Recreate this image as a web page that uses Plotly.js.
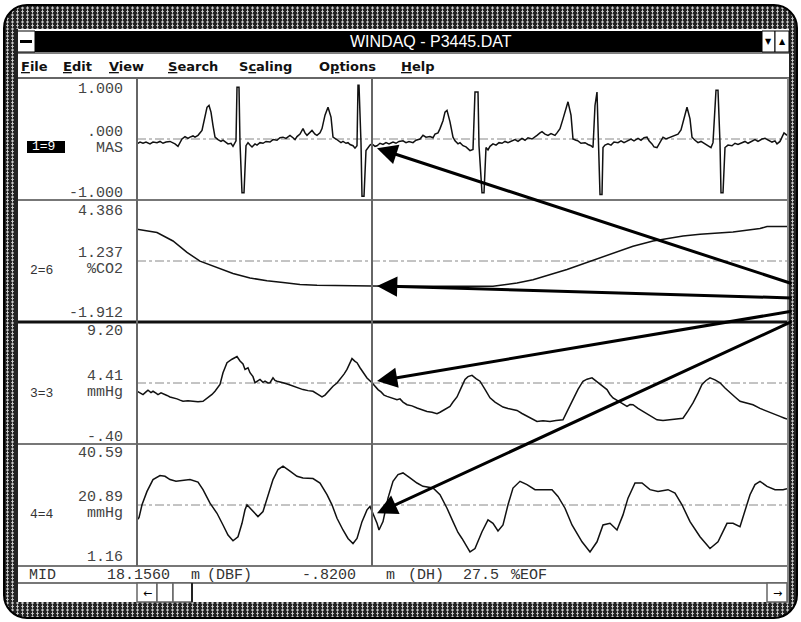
<!DOCTYPE html>
<html><head><meta charset="utf-8">
<script src="https://cdn.plot.ly/plotly-3.0.1.min.js"></script>
<style>
html,body{margin:0;padding:0;background:#fff;}
#wrap{position:relative;width:801px;height:622px;overflow:hidden;background:#fff;}
#frame{position:absolute;left:3px;top:4px;width:795px;height:615px;border-radius:24px;box-sizing:border-box;border:2px solid #000;
 background-color:#222;
 background-image:radial-gradient(1.2px 1.7px at 2.5px 2px,#c8c8c8 80%,rgba(0,0,0,0) 100%),radial-gradient(1.2px 1.7px at 2.5px 5.5px,#c8c8c8 80%,rgba(0,0,0,0) 100%);
 background-size:5px 7px;}
#chart{position:absolute;left:0;top:0;width:801px;height:622px;}
</style></head>
<body><div id="wrap"><div id="frame"></div><div id="chart"></div></div>
<script>
// ---- data (sample index across the screen, values in channel units) ----
const ecgT=[0,3,6,9,13,16,20,23,26,29,
 33,36,38,41,45,48,51,53,56,58,
 61,65,67,70,72,74,76,78,81,84,
 86,89,91,94,96,99,100,102,103,105,
 107,109,111,113,115,118,120,123,126,129,
 133,136,140,143,146,149,153,156,158,160,
 163,166,168,170,173,175,178,180,183,185,
 188,191,194,196,199,201,204,206,209,211,
 213,216,218,220,221,222,224,225,227,229,
 231,233,235,238,240,243,246,249,252,256,
 259,262,266,269,272,276,279,283,286,289,
 293,296,298,301,303,306,308,310,313,316,
 318,321,323,326,329,333,336,338,341,342,
 345,347,349,351,353,356,359,362,365,368,
 371,375,378,381,385,388,391,395,398,400,
 403,405,408,411,414,418,420,423,426,430,
 431,434,436,439,441,444,448,451,454,456,
 458,460,461,463,465,466,468,471,474,477,
 481,484,487,491,494,497,501,504,507,510,
 512,515,517,520,523,526,529,532,535,538,
 541,544,546,550,553,555,558,561,564,568,
 571,574,576,579,581,583,584,586,588,591,
 595,598,601,605,608,611,615,618,621,625,
 628,631,635,638,640,643,645,647,650];
const ecgV=[-0.08,-0.05,-0.07,-0.05,-0.08,-0.05,-0.06,-0.04,-0.07,-0.05,
 -0.04,-0.06,-0.08,-0.12,0.0,0.04,0.01,0.03,0.05,0.03,
 0.06,0.14,0.28,0.52,0.55,0.44,0.22,0.03,-0.01,-0.04,
 -0.02,-0.06,-0.08,-0.07,-0.12,-0.03,0.85,0.85,-0.06,-0.88,
 -0.88,-0.11,-0.06,-0.1,-0.13,-0.08,-0.1,-0.06,-0.07,-0.04,
 -0.05,-0.01,-0.02,0.02,0.03,0.01,0.06,0.02,-0.01,0.04,
 0.08,0.17,0.1,0.06,0.1,0.14,0.08,0.06,0.1,0.17,
 0.39,0.52,0.36,0.03,0.0,-0.02,-0.06,-0.04,-0.07,-0.06,
 -0.09,-0.11,-0.15,-0.11,0.88,0.88,-0.06,-0.94,-0.94,-0.19,
 -0.14,-0.1,-0.08,-0.12,-0.11,-0.07,-0.09,-0.06,-0.08,-0.05,
 -0.07,-0.04,-0.03,-0.06,-0.04,-0.06,-0.02,0.0,0.06,0.03,
 0.04,0.02,0.08,0.1,0.17,0.3,0.44,0.47,0.28,0.03,
 -0.03,-0.08,-0.06,-0.11,-0.13,-0.19,-0.17,0.77,0.77,-0.11,
 -0.88,-0.88,-0.14,-0.18,-0.12,-0.08,-0.1,-0.06,-0.07,-0.04,
 -0.06,-0.03,-0.01,-0.04,0.01,-0.02,0.02,0.0,0.03,0.06,
 0.1,0.12,0.08,0.06,0.09,0.06,0.1,0.17,0.33,0.58,
 0.61,0.39,0.0,-0.02,-0.03,-0.07,-0.06,-0.09,-0.11,-0.14,
 0.55,0.77,0.03,-0.91,-0.91,-0.14,-0.1,-0.08,-0.1,-0.05,
 -0.06,-0.03,-0.06,-0.03,0.0,-0.03,0.01,-0.02,0.02,0.03,
 -0.03,-0.08,-0.13,-0.14,-0.05,0.03,0.0,0.02,0.03,0.06,
 0.08,0.15,0.28,0.52,0.33,0.03,-0.02,-0.06,-0.04,-0.08,
 -0.1,-0.14,-0.06,0.8,0.8,-0.06,-0.88,-0.88,-0.14,-0.1,
 -0.11,-0.07,-0.09,-0.06,-0.04,-0.07,-0.03,-0.01,-0.04,0.0,
 0.01,-0.02,-0.05,-0.03,-0.08,-0.04,0.03,0.1,0.06];
const co2T=[0,20,36,50,63,80,96,113,130,146,163,180,196,235,263,313,356,380,396,430,463,496,516,530,546,563,596,623,630,650];
const co2V=[2.88,2.71,2.27,1.68,1.23,0.88,0.59,0.36,0.22,0.13,0.03,-0.02,-0.04,-0.06,-0.07,-0.07,-0.07,0.10,0.27,0.80,1.40,2.00,2.27,2.39,2.53,2.62,2.74,2.91,3.02,3.02];
const bp3T=[0,3,6,9,11,14,16,19,21,24,
 26,30,33,36,40,43,46,51,56,61,
 66,71,75,78,83,86,90,95,100,103,
 106,108,111,113,116,118,121,123,126,128,
 131,133,136,138,140,143,146,151,156,161,
 166,171,176,181,185,188,190,193,196,200,
 203,207,210,213,215,218,220,223,226,230,
 235,238,241,244,247,250,255,260,263,266,
 270,275,280,285,290,295,300,303,306,310,
 313,316,320,324,328,331,335,339,343,348,
 353,358,362,366,371,376,380,385,390,395,
 400,406,413,419,426,431,436,441,446,450,
 455,459,463,466,470,473,476,483,490,493,
 496,501,506,513,520,526,533,540,546,551,
 556,561,565,569,573,578,583,588,593,598,
 603,609,616,623,630,636,643,647,650];
const bp3V=[3.75,3.6,3.49,3.7,3.83,3.65,3.75,3.6,3.49,3.62,
 3.57,3.42,3.30,3.25,3.15,3.05,2.96,3.0,2.96,2.92,
 2.96,3.23,3.5,3.75,4.28,5.21,6.00,6.27,6.48,6.13,
 5.9,5.47,5.6,5.21,4.9,4.42,4.6,4.68,4.45,4.54,
 4.4,4.42,4.81,4.6,4.54,4.5,4.42,4.3,4.15,4.0,
 3.88,3.8,3.75,3.5,3.30,3.45,3.62,3.9,4.15,4.4,
 4.68,5.1,5.47,6.0,6.32,6.1,6.00,5.6,5.21,4.8,
 4.42,4.1,3.88,3.7,3.45,3.35,3.2,3.09,3.15,2.9,
 2.69,2.6,2.43,2.3,2.16,2.1,1.98,2.1,2.24,2.4,
 2.56,2.9,3.3,4.0,4.68,4.9,5.00,4.75,4.54,3.9,
 3.23,2.9,2.7,2.51,2.4,2.3,2.24,2.0,1.77,1.55,
 1.37,1.42,1.37,1.45,1.50,2.3,3.09,3.9,4.54,4.7,
 4.81,4.55,4.28,4.1,3.88,3.5,3.23,2.9,2.56,2.7,
 2.69,2.4,2.16,1.8,1.50,1.45,1.50,1.55,1.63,2.2,
 2.83,3.6,4.28,4.6,4.81,4.65,4.42,4.0,3.62,3.3,
 2.96,2.85,2.69,2.4,2.16,1.95,1.77,1.65,1.56];
const bp4T=[0,2,5,10,16,23,28,33,39,46,53,61,66,73,80,86,91,96,101,105,108,110,115,121,126,131,136,141,146,153,160,166,176,183,190,195,200,206,211,216,220,225,230,233,236,240,242,246,251,256,261,266,273,280,286,296,303,310,316,321,325,333,338,345,351,356,361,366,371,376,383,390,398,406,415,421,428,435,445,453,460,466,473,480,486,491,498,505,513,521,531,538,545,553,563,573,581,590,596,603,608,613,618,623,630,638,646,650];
const bp4V=[16.05,16.80,20.94,25.27,29.09,30.39,30.16,29.09,28.53,28.76,29.09,28.30,25.83,21.46,18.20,14.42,11.17,9.31,10.61,14.95,19.31,20.94,19.31,17.13,18.76,24.20,29.09,32.34,33.42,31.79,30.16,29.61,29.41,27.98,24.20,20.94,16.57,12.80,10.06,8.43,10.06,15.50,19.31,20.39,18.20,14.95,12.80,15.50,23.09,28.53,30.71,31.24,29.61,27.98,26.90,26.35,24.20,19.83,15.50,12.0,10.06,5.72,6.80,12.24,16.05,14.95,12.47,14.42,20.94,26.35,28.53,27.46,25.83,25.83,25.83,23.64,19.83,14.42,8.98,5.72,8.98,14.42,14.95,12.80,17.68,23.09,27.98,27.98,25.83,25.27,25.83,24.72,20.94,15.50,10.61,6.80,8.98,14.95,14.95,13.87,18.76,24.20,27.46,28.53,26.90,25.83,25.83,26.15];

const channelIds=['1=9','2=6','3=3','4=4'];
const units=['MAS','%CO2','mmHg','mmHg'];
const topLabels=['1.000','4.386','9.20','40.59'];
const midLabels=['.000','1.237','4.41','20.89'];
const botLabels=['-1.000','-1.912','-.40','1.16'];
const rangesLo=[-1.0,-1.912,-0.40,1.16];
const rangesHi=[1.0,4.386,9.20,40.59];
const cursorT=235;
const arrowTipT=240;
const arrowTipV=[-0.15,-0.05,4.55,18.2];
const menuItems=['<u>F</u>ile','<u>E</u>dit','<u>V</u>iew','<u>S</u>earch','S<u>c</u>aling','O<u>p</u>tions','<u>H</u>elp'];
const statusItems=['MID','18.1560','m','(DBF)','-.8200','m','(DH)','27.5','%EOF'];

// ---- geometry helpers ----
const W=801,H=622;
const X=p=>p/W, Y=p=>1-p/H;
const plotL=137, plotR=787;
const winL=17, winR=789;
const panelTop=[78,200,322,444], panelBot=[200,322,444,566];
const tailX=793, tailY=[284,298,311,321];
const shapes=[], ann=[];
function rect(x0,y0,x1,y1,fill,lc,lw,layer){shapes.push({type:'rect',xref:'paper',yref:'paper',x0:X(x0),x1:X(x1),y0:Y(y1),y1:Y(y0),fillcolor:fill,line:{color:lc||fill,width:lw||0},layer:layer||'above'});}
function line(x0,y0,x1,y1,c,w,dash){shapes.push({type:'line',xref:'paper',yref:'paper',x0:X(x0),x1:X(x1),y0:Y(y0),y1:Y(y1),line:{color:c,width:w,dash:dash||'solid'}});}
function txt(t,x,y,o){ann.push(Object.assign({text:t,xref:'paper',yref:'paper',x:X(x),y:Y(y),showarrow:false,xanchor:'left',yanchor:'middle',font:{family:'Liberation Mono, DejaVu Sans Mono, monospace',size:15,color:'#444'}},o||{}));}

// window interior
rect(winL,29,winR,602,'#ffffff',null,0,'below');
// title bar
rect(35,31,762,52,'#000000');
rect(winL,31,35,52,'#ffffff','#000',1);
rect(20,40,32,43,'#000000');
rect(762,31,775,52,'#ffffff','#000',1);
rect(775,31,winR,52,'#ffffff','#000',1);
txt('WINDAQ - P3445.DAT',431,42,{xanchor:'center',font:{family:'Liberation Sans, Arial, sans-serif',size:16,color:'#fff'}});
txt('\u25BC',768.5,42,{xanchor:'center',font:{family:'DejaVu Sans',size:8,color:'#000'}});
txt('\u25B2',782,41,{xanchor:'center',font:{family:'DejaVu Sans',size:8,color:'#000'}});
// menu
line(winL,53,winR,53,'#000',1);
const menuX=[19,61,107,166,237,317,399];
menuItems.forEach((m,i)=>txt(m,menuX[i],66,{font:{family:'DejaVu Sans, Liberation Sans, sans-serif',size:13,color:'#111',weight:'bold'}}));
line(winL,78,winR,78,'#666',2);
// panel separators and frame lines
line(winL,200,winR,200,'#777',2);
line(winL,322,winR,322,'#111',3);
line(winL,444,winR,444,'#777',2);
line(winL,566,winR,566,'#777',2);
line(winL,583,winR,583,'#777',2);
line(plotL,78,plotL,566,'#666',2);
line(plotR+1,78,plotR+1,602,'#888',2);
line(winL,29,winL,602,'#222',2);
// scrollbar
rect(137,583,157,602,'#fff','#666',1.5);
rect(157,583,173,602,'#fff','#666',1.5);
rect(173,583,192,602,'#fff','#666',1.5);
line(192,583,192,602,'#222',2);
rect(767,583,787,602,'#fff','#666',1.5);
txt('\u2190',147,593,{xanchor:'center',font:{family:'DejaVu Sans',size:11,color:'#000'}});
txt('\u2192',777,593,{xanchor:'center',font:{family:'DejaVu Sans',size:11,color:'#000'}});
// status bar text
const statusX=[27,105,189,205,300,384,406,461,509];
statusItems.forEach((s,i)=>txt(s,statusX[i],575,{font:{family:'Liberation Mono, monospace',size:15,color:'#333'}}));
// channel labels
const topY=[89,211,331,453], midY=[132,253,376,497], unitY=[148,269,392,513], botY=[193,314,437,557];
for(let i=0;i<4;i++){
  txt(topLabels[i],125,topY[i],{xanchor:'right'});
  txt(midLabels[i],125,midY[i],{xanchor:'right'});
  txt(units[i],125,unitY[i],{xanchor:'right'});
  txt(botLabels[i],125,botY[i],{xanchor:'right'});
}
rect(27,141,65,153,'#000');
txt(channelIds[0],30,147,{font:{family:'Liberation Mono, monospace',size:13,color:'#fff'}});
txt(channelIds[1],28,270,{font:{family:'Liberation Mono, monospace',size:13,color:'#333'}});
txt(channelIds[2],28,393,{font:{family:'Liberation Mono, monospace',size:13,color:'#333'}});
txt(channelIds[3],28,514,{font:{family:'Liberation Mono, monospace',size:13,color:'#333'}});

// axes
const ax={showgrid:false,zeroline:false,showticklabels:false,showline:false,ticks:'',fixedrange:true};
const layout={width:W,height:H,margin:{l:0,r:0,t:0,b:0},paper_bgcolor:'rgba(0,0,0,0)',plot_bgcolor:'rgba(0,0,0,0)',showlegend:false,
  xaxis:Object.assign({domain:[X(plotL),X(plotR)],range:[0,650]},ax),shapes:shapes,annotations:ann};
const yNames=['yaxis','yaxis2','yaxis3','yaxis4'];
for(let i=0;i<4;i++){
  layout[yNames[i]]=Object.assign({domain:[Y(panelBot[i]),Y(panelTop[i])],range:[rangesLo[i],rangesHi[i]],anchor:'x'},ax);
  const mid=(rangesLo[i]+rangesHi[i])/2;
  shapes.push({type:'line',xref:'x',yref:i?'y'+(i+1):'y',x0:0,x1:650,y0:mid,y1:mid,line:{color:'#888',width:1,dash:'dashdot'},layer:'below'});
}
// cursor
shapes.push({type:'line',xref:'x',yref:'paper',x0:cursorT,x1:cursorT,y0:Y(566),y1:Y(78),line:{color:'#666',width:2}});
// arrows
const tipPx=plotL+(arrowTipT/650)*(plotR-plotL);
for(let i=0;i<4;i++){
  const frac=(arrowTipV[i]-rangesLo[i])/(rangesHi[i]-rangesLo[i]);
  const tipY=panelBot[i]-frac*(panelBot[i]-panelTop[i]);
  ann.push({x:arrowTipT,y:arrowTipV[i],xref:'x',yref:i?'y'+(i+1):'y',text:'',showarrow:true,arrowhead:2,arrowsize:1.35,arrowwidth:3,arrowcolor:'#000',
    axref:'pixel',ayref:'pixel',ax:tailX-tipPx,ay:tailY[i]-tipY,standoff:0});
}
const tr=(t,v,ya)=>({x:t,y:v,xaxis:'x',yaxis:ya,type:'scatter',mode:'lines',line:{color:'#111',width:1.5},hoverinfo:'skip'});
const data=[tr(ecgT,ecgV,'y'),tr(co2T,co2V,'y2'),tr(bp3T,bp3V,'y3'),tr(bp4T,bp4V,'y4')];
Plotly.newPlot('chart',data,layout,{staticPlot:true,displayModeBar:false});
</script></body></html>
